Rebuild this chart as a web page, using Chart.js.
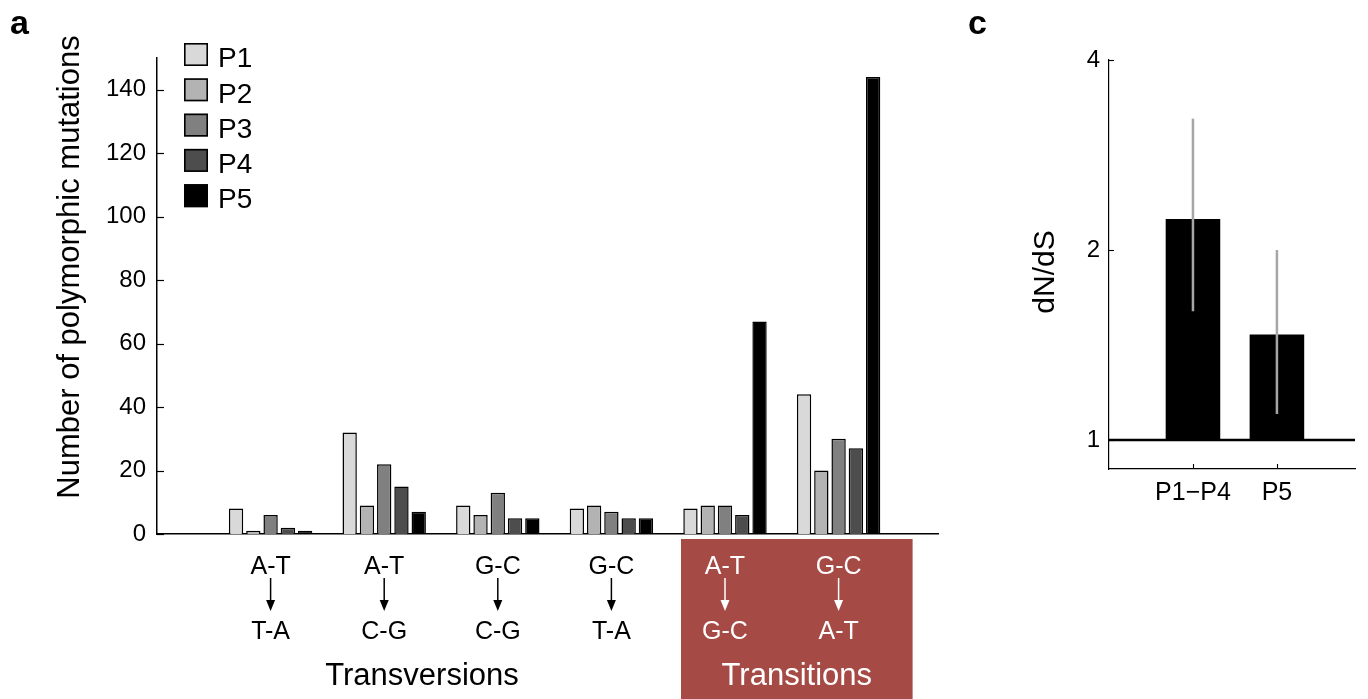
<!DOCTYPE html>
<html>
<head>
<meta charset="utf-8">
<script src="https://cdn.jsdelivr.net/npm/chart.js@4/dist/chart.umd.min.js"></script>
<style>
  html, body { margin: 0; padding: 0; background: #fff; }
  #mutationChart { position: absolute; left: 0; top: 0; }
  #dndsChart { position: absolute; left: 960px; top: 0; }
</style>
</head>
<body>
<canvas id="mutationChart" width="960" height="699"></canvas>
<canvas id="dndsChart" width="408" height="699"></canvas>
<script>
// mutation classes (before -> after base pair)
const fromPairs = ["A-T", "A-T", "G-C", "G-C", "A-T", "G-C"];
const toPairs = ["T-A", "C-G", "C-G", "T-A", "G-C", "A-T"];

// polymorphic mutation counts per patient
const patients = ["P1", "P2", "P3", "P4", "P5"];
const p1 = [8, 32, 9, 8, 8, 44];
const p2 = [1, 9, 6, 9, 9, 20];
const p3 = [6, 22, 13, 7, 9, 30];
const p4 = [2, 15, 5, 5, 6, 27];
const p5 = [1, 7, 5, 5, 67, 144];
const countTicks = [0, 20, 40, 60, 80, 100, 120, 140];

// dN/dS with confidence interval
const dndsLabels = ["P1\u2212P4", "P5"];
const dnds = [2.24, 1.47];
const dndsLow = [1.60, 1.10];
const dndsHigh = [3.23, 2.00];
const dndsTicks = [1, 2, 4];

const counts = [p1, p2, p3, p4, p5];
const greys = ["#d9d9d9", "#b3b3b3", "#808080", "#4d4d4d", "#000000"];

Chart.defaults.font.family = "'Liberation Sans', Arial, Helvetica, sans-serif";
Chart.defaults.color = "#000";

function line(ctx, x1, y1, x2, y2) {
  ctx.beginPath();
  ctx.moveTo(x1, y1);
  ctx.lineTo(x2, y2);
  ctx.stroke();
}

function panelLetter(ctx, letter, x) {
  ctx.save();
  ctx.font = "bold 34px 'Liberation Sans', Arial, sans-serif";
  ctx.fillStyle = "#000";
  ctx.textBaseline = "alphabetic";
  ctx.fillText(letter, x, 34);
  ctx.restore();
}

function verticalTitle(ctx, text, x, y, size) {
  ctx.save();
  ctx.translate(x, y);
  ctx.rotate(-Math.PI / 2);
  ctx.font = size + "px 'Liberation Sans', Arial, sans-serif";
  ctx.fillStyle = "#000";
  ctx.textAlign = "center";
  ctx.textBaseline = "middle";
  ctx.fillText(text, 0, 0);
  ctx.restore();
}

const mutationExtras = {
  id: "mutationExtras",
  beforeDraw(chart) {
    const { ctx, scales: { x } } = chart;
    // shaded band under the transition classes
    const left = x.getPixelForValue(5) - 44;
    const right = x.getPixelForValue(6) + 74;
    ctx.save();
    ctx.fillStyle = "#a54a44";
    ctx.fillRect(left, x.top + 5, right - left, chart.height - x.top - 5);
    ctx.restore();
  },
  afterDraw(chart) {
    const { ctx, chartArea, scales: { x, y } } = chart;
    ctx.save();

    // inward y ticks
    ctx.strokeStyle = "#000";
    ctx.lineWidth = 1.2;
    y.ticks.forEach(t => {
      const py = Math.round(y.getPixelForValue(t.value)) + 0.5;
      line(ctx, chartArea.left, py, chartArea.left + 7, py);
    });

    // arrows between the base pairs
    fromPairs.forEach((_, i) => {
      const px = x.getPixelForValue(i + 1);
      const col = i >= 4 ? "#fff" : "#000";
      ctx.strokeStyle = col;
      ctx.fillStyle = col;
      ctx.lineWidth = 1.5;
      line(ctx, px, x.top + 44, px, x.top + 68);
      ctx.beginPath();
      ctx.moveTo(px - 4.5, x.top + 66);
      ctx.lineTo(px + 4.5, x.top + 66);
      ctx.lineTo(px, x.top + 77);
      ctx.closePath();
      ctx.fill();
    });

    // group names
    ctx.font = "31px 'Liberation Sans', Arial, sans-serif";
    ctx.textAlign = "center";
    ctx.textBaseline = "middle";
    ctx.fillStyle = "#000";
    ctx.fillText("Transversions", (x.getPixelForValue(1) + x.getPixelForValue(4)) / 2 - 19, x.top + 142);
    ctx.fillStyle = "#fff";
    ctx.fillText("Transitions", (x.getPixelForValue(5) + x.getPixelForValue(6)) / 2 + 15, x.top + 142);

    // legend
    const sx = chartArea.left + 27;
    chart.data.datasets.forEach((ds, k) => {
      const top = 43 + k * 35.3;
      ctx.fillStyle = ds.backgroundColor;
      ctx.fillRect(sx, top, 24, 23);
      ctx.strokeStyle = "#000";
      ctx.lineWidth = 1.6;
      ctx.strokeRect(sx + 0.8, top + 0.8, 22.4, 21.4);
      ctx.fillStyle = "#000";
      ctx.font = "28px 'Liberation Sans', Arial, sans-serif";
      ctx.textAlign = "left";
      ctx.fillText(ds.label, sx + 34, top + 16.5);
    });
    ctx.restore();

    verticalTitle(ctx, "Number of polymorphic mutations", 70, 267, 31);
    panelLetter(ctx, "a", 10);
  }
};

new Chart(document.getElementById("mutationChart"), {
  type: "bar",
  data: {
    datasets: patients.map((name, k) => ({
      label: name,
      data: counts[k].map((v, i) => ({ x: i + 1, y: v })),
      backgroundColor: greys[k],
      borderColor: "#000",
      borderWidth: 1.5,
      categoryPercentage: 0.76,
      barPercentage: 0.83
    }))
  },
  options: {
    responsive: false,
    animation: false,
    events: [],
    layout: { padding: { top: 58, right: 22, left: 0, bottom: 0 } },
    plugins: { legend: { display: false }, tooltip: { enabled: false } },
    scales: {
      x: {
        type: "linear",
        min: 0,
        max: 6.875,
        bounds: "data",
        offset: false,
        grid: { display: false, drawTicks: false },
        border: { display: true, color: "#000", width: 1.5 },
        afterBuildTicks: s => { s.ticks = fromPairs.map((_, i) => ({ value: i + 1 })); },
        afterFit: s => { s.height = 165; },
        ticks: {
          autoSkip: false,
          maxRotation: 0,
          padding: 17,
          font: { size: 25, lineHeight: 1.3 },
          color: c => (c.index >= 4 ? "#fff" : "#000"),
          callback: (v, i) => [fromPairs[i], "", toPairs[i]]
        }
      },
      y: {
        min: 0,
        max: 150,
        bounds: "data",
        grid: { display: false, drawTicks: false },
        border: { display: true, color: "#000", width: 1.5 },
        afterBuildTicks: s => { s.ticks = countTicks.map(v => ({ value: v })); },
        afterFit: s => { s.width = 157; },
        ticks: { padding: 11, font: { size: 24 }, callback: v => String(v) }
      }
    }
  },
  plugins: [mutationExtras]
});

const dndsExtras = {
  id: "dndsExtras",
  afterDatasetsDraw(chart) {
    const { ctx, chartArea, scales: { x, y } } = chart;
    ctx.save();
    // reference line at dN/dS = 1
    const py1 = y.getPixelForValue(1);
    ctx.strokeStyle = "#000";
    ctx.lineWidth = 2.5;
    line(ctx, chartArea.left, py1, chartArea.right, py1);

    // confidence intervals
    ctx.strokeStyle = "#a6a6a6";
    ctx.lineWidth = 2.5;
    dnds.forEach((_, i) => {
      const px = x.getPixelForValue(i + 1);
      line(ctx, px, y.getPixelForValue(dndsLow[i]), px, y.getPixelForValue(dndsHigh[i]));
    });

    // inward ticks
    ctx.strokeStyle = "#000";
    ctx.lineWidth = 1.1;
    y.ticks.forEach(t => {
      const py = Math.round(y.getPixelForValue(t.value)) + 0.5;
      line(ctx, chartArea.left, py, chartArea.left + 5, py);
    });
    x.ticks.forEach(t => {
      const px = Math.round(x.getPixelForValue(t.value)) + 0.5;
      line(ctx, px, chartArea.bottom, px, chartArea.bottom - 5);
    });
    ctx.restore();
  },
  afterDraw(chart) {
    verticalTitle(chart.ctx, "dN/dS", 86, 272, 30);
    panelLetter(chart.ctx, "c", 8);
  }
};

new Chart(document.getElementById("dndsChart"), {
  type: "bar",
  data: {
    datasets: [{
      label: "dN/dS",
      data: dnds.map((v, i) => ({ x: i + 1, y: v })),
      base: 1,
      backgroundColor: "#000",
      borderWidth: 0,
      categoryPercentage: 1,
      barPercentage: 0.65
    }]
  },
  options: {
    responsive: false,
    animation: false,
    events: [],
    layout: { padding: { top: 60, right: 13, left: 0, bottom: 0 } },
    plugins: { legend: { display: false }, tooltip: { enabled: false } },
    scales: {
      x: {
        type: "linear",
        min: 0,
        max: 2.93,
        bounds: "data",
        offset: false,
        grid: { display: false, drawTicks: false },
        border: { display: true, color: "#000", width: 1.2 },
        afterBuildTicks: s => { s.ticks = dndsLabels.map((_, i) => ({ value: i + 1 })); },
        afterFit: s => { s.height = 230; },
        ticks: {
          autoSkip: false,
          maxRotation: 0,
          padding: 9,
          font: { size: 25 },
          callback: (v, i) => dndsLabels[i]
        }
      },
      y: {
        type: "logarithmic",
        min: 0.9,
        max: 4,
        bounds: "data",
        grid: { display: false, drawTicks: false },
        border: { display: true, color: "#000", width: 1.2 },
        afterBuildTicks: s => { s.ticks = dndsTicks.map(v => ({ value: v })); },
        afterFit: s => { s.width = 149; },
        ticks: { padding: 9, font: { size: 24 }, callback: v => String(v) }
      }
    }
  },
  plugins: [dndsExtras]
});
</script>
</body>
</html>
